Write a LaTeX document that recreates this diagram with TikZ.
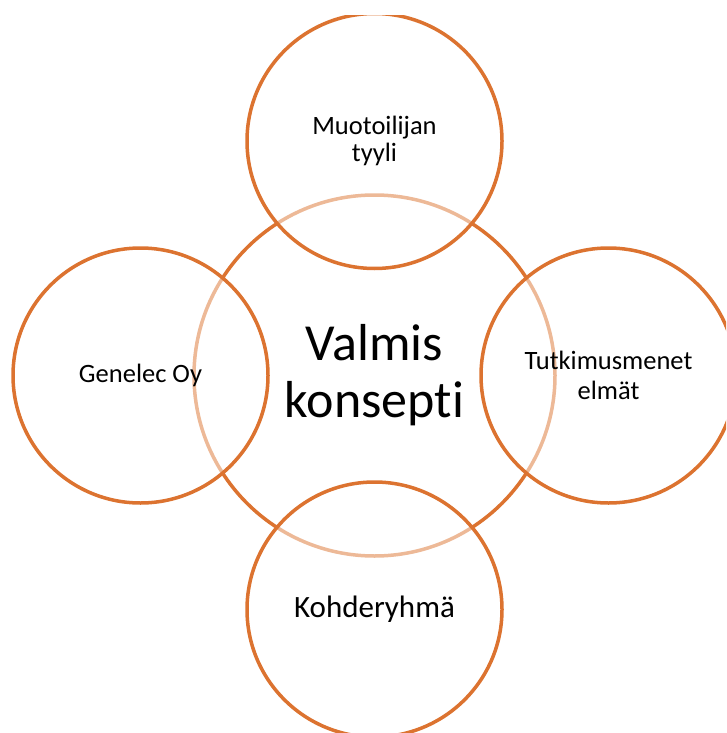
\documentclass[tikz,border=0pt]{standalone}
\usepackage{fontspec}
\setmainfont{Carlito}[Ligatures=NoCommon]
\usepackage{xcolor}
\usepackage{tikz}
\definecolor{RingOrange}{RGB}{220, 115, 48}
\tikzstyle{hub} = [circle, minimum size=361pt, inner sep=0pt, draw=RingOrange, line width=3.5pt, align=center, font=\fontsize{52}{57}\selectfont]
\tikzstyle{petal} = [circle, minimum size=255pt, inner sep=0pt, draw=RingOrange, line width=3.5pt, fill=white, fill opacity=0.5, text opacity=1, align=center, font=\fontsize{26.5}{27}\selectfont]

\begin{document}
\begin{tikzpicture}[x=1pt, y=-1pt]
\useasboundingbox (0,0) rectangle (726,733);
\clip (0,16) rectangle (726,733);

% Keskus
\node (hub) [hub] at (374.5,375.5) {Valmis\\konsepti};

% Ympyrät
\node (muotoilu) [petal] at (374.5,141) {Muotoilijan\\tyyli};
\node (genelec) [petal] at (140.5,375.5) {Genelec Oy};
\node (tutkimus) [petal, font=\fontsize{26.5}{30}\selectfont] at (608.5,375.5) {Tutkimusmenet\\elmät};
\node (kohde) [petal, font=\fontsize{31}{34}\selectfont] at (374.5,609.5) {Kohderyhmä};

\end{tikzpicture}
\end{document}
